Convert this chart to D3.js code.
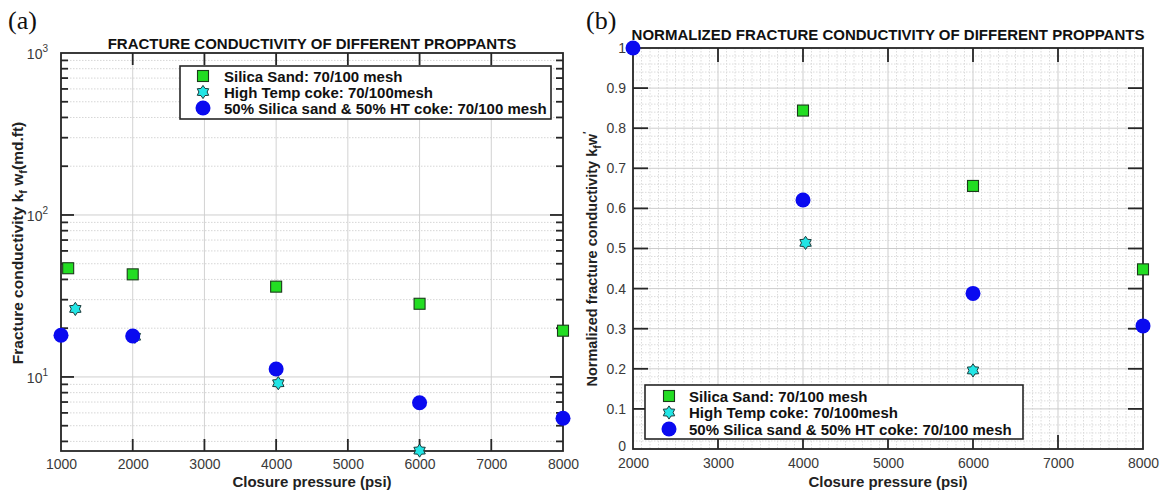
<!DOCTYPE html>
<html><head><meta charset="utf-8">
<script src="https://cdn.jsdelivr.net/npm/d3@7"></script>
<style>
html,body{margin:0;padding:0;background:#fff;}
svg{display:block;font-family:"Liberation Sans",Arial,Helvetica,sans-serif;}
</style></head>
<body><svg id="c" width="1160" height="491"></svg>
<script>
// ---------- DATA ----------
const seriesNames = ["Silica Sand: 70/100 mesh","High Temp coke: 70/100mesh","50% Silica sand & 50% HT coke: 70/100 mesh"];
// Panel (a): absolute conductivity (md.ft)
const sandA_p = [1100, 2000, 4000, 6000, 8000];
const sandA_v = [46.9, 43.0, 36.1, 28.3, 19.3];
const cokeA_p = [1200, 2030, 4030, 6000];
const cokeA_v = [26.3, 17.7, 9.15, 3.51];
const blendA_p = [1000, 2000, 4000, 6000, 8000];
const blendA_v = [18.1, 17.9, 11.2, 6.93, 5.56];
// Panel (b): normalized conductivity
const sandB_p = [4000, 6000, 8000];
const sandB_v = [0.844, 0.656, 0.448];
const cokeB_p = [4030, 6000];
const cokeB_v = [0.514, 0.196];
const blendB_p = [2000, 4000, 6000, 8000];
const blendB_v = [1.0, 0.621, 0.388, 0.307];
// Ticks
const xTicksA = [1000,2000,3000,4000,5000,6000,7000,8000];
const yMajorA = [10,100,1000];
const xTicksB = [2000,3000,4000,5000,6000,7000,8000];
const yTicksB = [0,0.1,0.2,0.3,0.4,0.5,0.6,0.7,0.8,0.9,1];

const svg = d3.select("#c");
const GREEN="#22dd22", CYAN="#22e5e5", BLUE="#0a0af0";
const AX="#262626";

function hexagram(R){
  const pts=[];
  for(let i=0;i<12;i++){
    const a=-Math.PI/2+i*Math.PI/6, r=(i%2===0)?R:R*0.62;
    pts.push([r*Math.cos(a), r*Math.sin(a)]);
  }
  return "M"+pts.map(p=>p.join(",")).join("L")+"Z";
}
function drawMarker(g, kind, cx, cy){
  if(kind===0){
    g.append("rect").attr("x",cx-5.5).attr("y",cy-5.5).attr("width",11).attr("height",11)
     .attr("fill",GREEN).attr("stroke","#1b3b1b").attr("stroke-width",1.1);
  } else if(kind===1){
    g.append("path").attr("d",hexagram(6.6)).attr("transform",`translate(${cx},${cy})`)
     .attr("fill",CYAN).attr("stroke","#1b3b3b").attr("stroke-width",1);
  } else {
    g.append("circle").attr("cx",cx).attr("cy",cy).attr("r",7.5).attr("fill",BLUE);
  }
}
function styleAxis(sel){
  sel.select(".domain").remove();
  sel.selectAll(".tick line").remove();
  sel.selectAll(".tick text").attr("fill","#3a3a3a").attr("font-size",14)
     .attr("font-family",'"Liberation Sans",Arial,sans-serif');
}
// explicit inward tick marks drawn from scales
function hTicks(g, scale, vals, y, len, dir){ // vertical tick marks on horizontal axis
  g.append("g").selectAll("line").data(vals).join("line")
   .attr("x1",d=>scale(d)).attr("x2",d=>scale(d)).attr("y1",y).attr("y2",y+dir*len)
   .attr("stroke",AX).attr("stroke-width",1.8);
}
function vTicks(g, scale, vals, x, len, dir){
  g.append("g").selectAll("line").data(vals).join("line")
   .attr("y1",d=>scale(d)).attr("y2",d=>scale(d)).attr("x1",x).attr("x2",x+dir*len)
   .attr("stroke",AX).attr("stroke-width",1.8);
}

// ================= PANEL (a) =================
const xA = d3.scaleLinear().domain([1000,8000]).range([61,563]);
const yA = d3.scaleLog().domain([3.49,1000]).range([451,53]);
const gA = svg.append("g");
const minorA = [];
[1,10,100].forEach(d=>{for(let k=2;k<=9;k++){const v=d*k; if(v>yA.domain()[0] && v<1000) minorA.push(v);}});
// grid
gA.selectAll(".gv").data(xTicksA).join("line")
  .attr("x1",d=>xA(d)).attr("x2",d=>xA(d)).attr("y1",yA.range()[1]).attr("y2",yA.range()[0])
  .attr("stroke","#d2d2d2").attr("stroke-width",1);
gA.selectAll(".gm").data(minorA).join("line")
  .attr("x1",xA.range()[0]).attr("x2",xA.range()[1]).attr("y1",d=>yA(d)).attr("y2",d=>yA(d))
  .attr("stroke","#d6d6d6").attr("stroke-width",1).attr("stroke-dasharray","1.5,1.5");
gA.selectAll(".gM").data([10,100]).join("line")
  .attr("x1",xA.range()[0]).attr("x2",xA.range()[1]).attr("y1",d=>yA(d)).attr("y2",d=>yA(d))
  .attr("stroke","#cfcfcf").attr("stroke-width",1);
// axis labels via d3 axis
const axBA = gA.append("g").attr("transform",`translate(0,${yA.range()[0]})`)
  .call(d3.axisBottom(xA).tickValues(xTicksA).tickFormat(d3.format("d")).tickSize(0).tickPadding(8));
styleAxis(axBA);
// tick marks
hTicks(gA, xA, xTicksA.slice(1,-1), yA.range()[0], 12, -1);
hTicks(gA, xA, xTicksA.slice(1,-1), yA.range()[1], 12, 1);
vTicks(gA, yA, [10,100], xA.range()[0], 13, 1);
vTicks(gA, yA, [10,100], xA.range()[1], 13, -1);
vTicks(gA, yA, minorA, xA.range()[0], 7, 1);
vTicks(gA, yA, minorA, xA.range()[1], 7, -1);
// y tick labels 10^n
yMajorA.forEach(v=>{
  const t = gA.append("text").attr("x",48).attr("y",yA(v)+6).attr("text-anchor","end")
    .attr("font-size",14).attr("fill","#3a3a3a");
  t.append("tspan").text("10");
  t.append("tspan").attr("dy",-7).attr("font-size",10).text(String(Math.round(Math.log10(v))));
});
// border
gA.append("rect").attr("x",xA.range()[0]).attr("y",yA.range()[1])
  .attr("width",xA.range()[1]-xA.range()[0]).attr("height",yA.range()[0]-yA.range()[1])
  .attr("fill","none").attr("stroke",AX).attr("stroke-width",1.8);
// title
gA.append("text").attr("x",(xA.range()[0]+xA.range()[1])/2).attr("y",49).attr("text-anchor","middle")
  .attr("font-size",15).attr("font-weight","bold").attr("fill","#111").text("FRACTURE CONDUCTIVITY OF DIFFERENT PROPPANTS");
// x label
gA.append("text").attr("x",(xA.range()[0]+xA.range()[1])/2).attr("y",487).attr("text-anchor","middle")
  .attr("font-size",15).attr("font-weight","bold").attr("fill","#222").text("Closure pressure (psi)");
// y label
{
  const t = gA.append("text").attr("transform","translate(23,243) rotate(-90)").attr("text-anchor","middle")
    .attr("font-size",15.5).attr("font-weight","bold").attr("fill","#222");
  t.append("tspan").text("Fracture conductivity k");
  t.append("tspan").attr("dy",4).attr("font-size",11).text("f");
  t.append("tspan").attr("dy",-4).text(" w");
  t.append("tspan").attr("dy",4).attr("font-size",11).text("f");
  t.append("tspan").attr("dy",-4).text("(md.ft)");
}
// legend
{
  const lg = gA.append("g");
  lg.append("rect").attr("x",180).attr("y",66).attr("width",371).attr("height",53)
    .attr("fill","#fff").attr("stroke",AX).attr("stroke-width",1.6);
  seriesNames.forEach((s,i)=>{
    const yy = 76+i*16;
    drawMarker(lg,i,203,yy);
    lg.append("text").attr("x",224).attr("y",yy+5.5).attr("font-size",15).attr("font-weight","bold").attr("fill","#111").text(s);
  });
}
// points
const pA = gA.append("g");
sandA_p.forEach((p,i)=>drawMarker(pA,0,xA(p),yA(sandA_v[i])));
cokeA_p.forEach((p,i)=>drawMarker(pA,1,xA(p),yA(cokeA_v[i])));
blendA_p.forEach((p,i)=>drawMarker(pA,2,xA(p),yA(blendA_v[i])));
svg.append("text").attr("x",8).attr("y",29).attr("font-family",'"Liberation Serif","Times New Roman",serif')
  .attr("font-size",26).attr("fill","#111").text("(a)");

// ================= PANEL (b) =================
const xB = d3.scaleLinear().domain([2000,8000]).range([633,1143]);
const yB = d3.scaleLinear().domain([0,1]).range([449,48]);
const gB = svg.append("g");
const minorXB = d3.range(2000,8001,100).filter(v=>v%1000!==0);
const minorYB = d3.range(0,51,1).map(k=>k/50).filter((v,i)=>i%5!==0);
gB.selectAll(".mx").data(minorXB).join("line")
  .attr("x1",d=>xB(d)).attr("x2",d=>xB(d)).attr("y1",yB.range()[1]).attr("y2",yB.range()[0])
  .attr("stroke","#dcdcdc").attr("stroke-width",1).attr("stroke-dasharray","1.5,1.5");
gB.selectAll(".my").data(minorYB).join("line")
  .attr("x1",xB.range()[0]).attr("x2",xB.range()[1]).attr("y1",d=>yB(d)).attr("y2",d=>yB(d))
  .attr("stroke","#dcdcdc").attr("stroke-width",1).attr("stroke-dasharray","1.5,1.5");
gB.selectAll(".Mx").data(xTicksB).join("line")
  .attr("x1",d=>xB(d)).attr("x2",d=>xB(d)).attr("y1",yB.range()[1]).attr("y2",yB.range()[0])
  .attr("stroke","#cdcdcd").attr("stroke-width",1);
gB.selectAll(".My").data(yTicksB).join("line")
  .attr("x1",xB.range()[0]).attr("x2",xB.range()[1]).attr("y1",d=>yB(d)).attr("y2",d=>yB(d))
  .attr("stroke","#cdcdcd").attr("stroke-width",1);
const axBB = gB.append("g").attr("transform",`translate(0,${yB.range()[0]})`)
  .call(d3.axisBottom(xB).tickValues(xTicksB).tickFormat(d3.format("d")).tickSize(0).tickPadding(9));
styleAxis(axBB);
const axLB = gB.append("g").attr("transform",`translate(${xB.range()[0]},0)`)
  .call(d3.axisLeft(yB).tickValues(yTicksB).tickFormat(d=>d===0?"0":(d===1?"1":d3.format(".1f")(d))).tickSize(0).tickPadding(7));
styleAxis(axLB);
axLB.selectAll(".tick").filter(d=>d===0).select("text").attr("y",-3);
hTicks(gB, xB, xTicksB.slice(1,-1), yB.range()[0], 14, -1);
hTicks(gB, xB, xTicksB.slice(1,-1), yB.range()[1], 14, 1);
vTicks(gB, yB, yTicksB.slice(1,-1), xB.range()[0], 15, 1);
vTicks(gB, yB, yTicksB.slice(1,-1), xB.range()[1], 15, -1);
gB.append("rect").attr("x",xB.range()[0]).attr("y",yB.range()[1])
  .attr("width",xB.range()[1]-xB.range()[0]).attr("height",yB.range()[0]-yB.range()[1])
  .attr("fill","none").attr("stroke",AX).attr("stroke-width",1.8);
gB.append("text").attr("x",(xB.range()[0]+xB.range()[1])/2).attr("y",40).attr("text-anchor","middle")
  .attr("font-size",15).attr("font-weight","bold").attr("fill","#111").text("NORMALIZED FRACTURE CONDUCTIVITY OF DIFFERENT PROPPANTS");
gB.append("text").attr("x",(xB.range()[0]+xB.range()[1])/2).attr("y",487).attr("text-anchor","middle")
  .attr("font-size",15).attr("font-weight","bold").attr("fill","#222").text("Closure pressure (psi)");
{
  const t = gB.append("text").attr("transform","translate(597,259) rotate(-90)").attr("text-anchor","middle")
    .attr("font-size",14.5).attr("font-weight","bold").attr("fill","#222");
  t.append("tspan").text("Normalized fracture conductivity k");
  t.append("tspan").attr("dy",4).attr("font-size",10.5).text("f");
  t.append("tspan").attr("dy",-4).text("w");
  t.append("tspan").attr("dy",-6).attr("font-size",10.5).text("′");
}
{
  const lg = gB.append("g");
  lg.append("rect").attr("x",645).attr("y",385).attr("width",378).attr("height",54)
    .attr("fill","#fff").attr("stroke",AX).attr("stroke-width",1.6);
  seriesNames.forEach((s,i)=>{
    const yy = 396+i*16.5;
    drawMarker(lg,i,669,yy);
    lg.append("text").attr("x",689).attr("y",yy+5.5).attr("font-size",15).attr("font-weight","bold").attr("fill","#111").text(s);
  });
}
const pB = gB.append("g");
sandB_p.forEach((p,i)=>drawMarker(pB,0,xB(p),yB(sandB_v[i])));
cokeB_p.forEach((p,i)=>drawMarker(pB,1,xB(p),yB(cokeB_v[i])));
blendB_p.forEach((p,i)=>drawMarker(pB,2,xB(p),yB(blendB_v[i])));
svg.append("text").attr("x",586).attr("y",29).attr("font-family",'"Liberation Serif","Times New Roman",serif')
  .attr("font-size",26).attr("fill","#111").text("(b)");
</script></body></html>
